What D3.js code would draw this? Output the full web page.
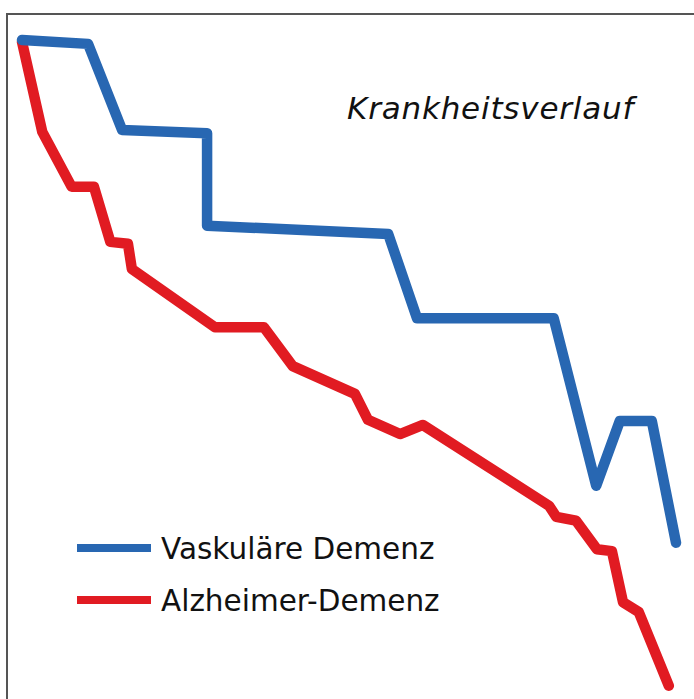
<!DOCTYPE html>
<html><head><meta charset="utf-8">
<script src="https://cdn.jsdelivr.net/npm/d3@7"></script>
<style>html,body{margin:0;padding:0;background:#fff;}svg{display:block;}</style>
</head><body>
<svg id="c" width="694" height="699"></svg>
<script>
const title = "Krankheitsverlauf";
const seriesNames = ["Vaskuläre Demenz", "Alzheimer-Demenz"];
const seriesColors = ["#2867b2", "#e11b22"];
// time (0..100), condition level (0..100)
const vaskX = [0, 10.1, 15.3, 28.3, 28.3, 56.0, 60.4, 81.3, 87.8, 91.4, 96.3, 100];
const vaskY = [100, 99.4, 86.1, 85.6, 71.3, 70.0, 57.0, 57.0, 31.1, 41.1, 41.1, 22.3];
const alzX = [0, 3.1, 7.6, 11.0, 13.5, 16.2, 16.8, 29.5, 37.0, 41.4, 50.9, 52.9, 57.8, 61.3, 80.6, 81.7, 84.7, 87.9, 90.2, 91.9, 94.3, 98.9];
const alzY = [99.7, 85.8, 77.3, 77.3, 68.8, 68.5, 64.6, 55.6, 55.6, 49.6, 45.3, 41.3, 39.1, 40.5, 28.0, 26.3, 25.7, 21.3, 21.0, 13.1, 11.6, 0.2];

const svg = d3.select("#c");
const x = d3.scaleLinear().domain([0, 100]).range([22, 676]);
const y = d3.scaleLinear().domain([0, 100]).range([687, 40]);

// frame (top and left)
svg.append("path").attr("d", "M7,699 V14 H694").attr("fill", "none")
  .attr("stroke", "#555").attr("stroke-width", 2);

const line = d3.line().x(d => x(d[0])).y(d => y(d[1]));
const series = [d3.zip(vaskX, vaskY), d3.zip(alzX, alzY)];
[1, 0].forEach(i => {
  svg.append("path").datum(series[i]).attr("d", line).attr("fill", "none")
    .attr("stroke", seriesColors[i]).attr("stroke-width", 10.5)
    .attr("stroke-linejoin", "round").attr("stroke-linecap", "round");
});

svg.append("text").attr("x", 347).attr("y", 119).text(title)
  .attr("font-family", "DejaVu Sans").attr("font-style", "italic")
  .attr("font-size", 31).attr("letter-spacing", 0.8).attr("fill", "#111");

const lg = svg.append("g");
seriesNames.forEach((n, i) => {
  const yy = 548 + i * 52;
  lg.append("line").attr("x1", 77).attr("x2", 151).attr("y1", yy).attr("y2", yy)
    .attr("stroke", seriesColors[i]).attr("stroke-width", 8);
  lg.append("text").attr("x", 161).attr("y", yy + 11).text(n)
    .attr("font-family", "DejaVu Sans").attr("font-size", 29.5).attr("fill", "#111");
});
</script>
</body></html>
